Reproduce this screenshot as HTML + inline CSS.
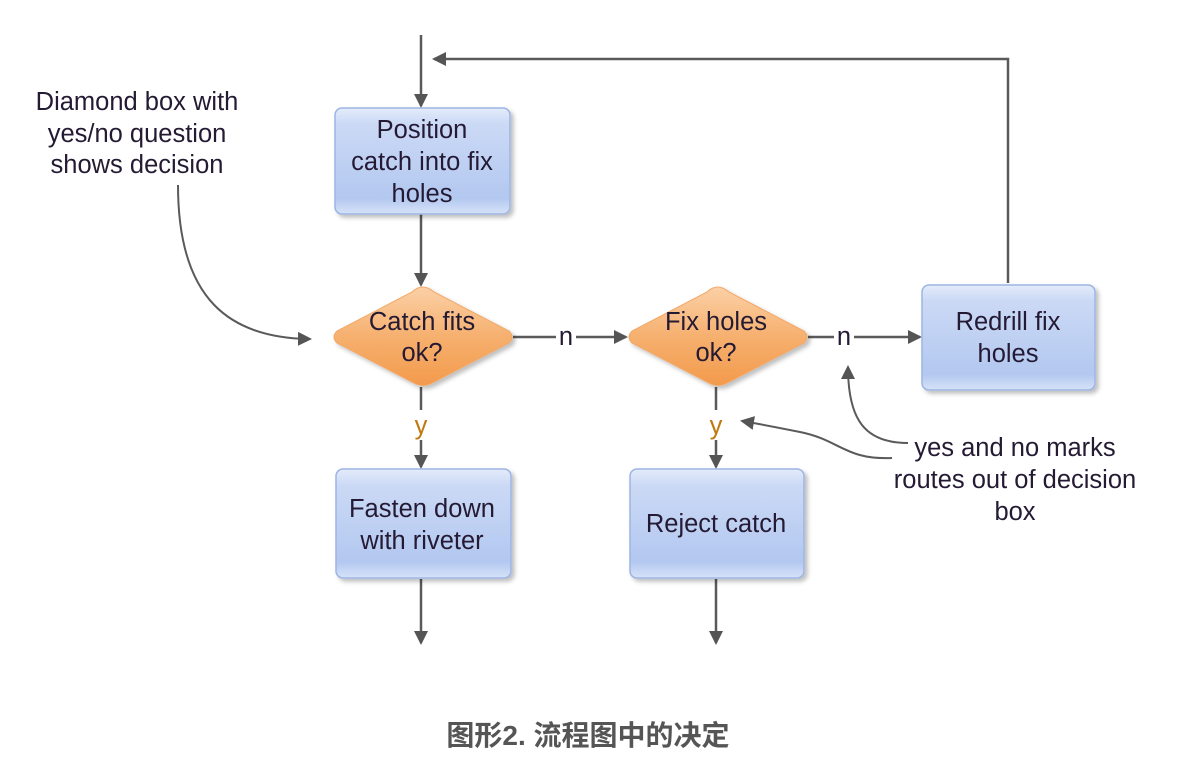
<!DOCTYPE html>
<html><head><meta charset="utf-8"><style>
html,body{margin:0;padding:0;background:#fff;}
svg{display:block;}
text{font-family:"Liberation Sans",Arial,sans-serif;font-size:25.5px;fill:#241a33;}
</style></head><body>
<svg width="1178" height="762" viewBox="0 0 1178 762" xmlns="http://www.w3.org/2000/svg">
<defs>
<linearGradient id="bl" x1="0" y1="0" x2="0" y2="1">
<stop offset="0" stop-color="#e4ecfb"/><stop offset="0.15" stop-color="#cbd9f5"/><stop offset="0.85" stop-color="#b3c8f0"/><stop offset="1" stop-color="#d6e2f8"/></linearGradient>
<linearGradient id="or" x1="0" y1="0" x2="0" y2="1">
<stop offset="0" stop-color="#fbd0a6"/><stop offset="0.5" stop-color="#f6b06f"/><stop offset="1" stop-color="#f39a4c"/></linearGradient>
<marker id="a" markerWidth="14" markerHeight="14" refX="12" refY="7" orient="auto" markerUnits="userSpaceOnUse"><path d="M0,0 L14,7 L0,14 z" fill="#555"/></marker>
<filter id="sh" x="-10%" y="-10%" width="130%" height="130%"><feDropShadow dx="3" dy="3" stdDeviation="2" flood-color="#000" flood-opacity="0.25"/></filter>
</defs>
<g stroke="#5a5a5a" stroke-width="2.5" fill="none">
<line x1="421" y1="35" x2="421" y2="106" marker-end="url(#a)"/>
<polyline points="1008,283 1008,59 434,59" marker-end="url(#a)"/>
<line x1="421" y1="214" x2="421" y2="285" marker-end="url(#a)"/>
<line x1="513" y1="337" x2="556" y2="337"/>
<line x1="576" y1="337" x2="626" y2="337" marker-end="url(#a)"/>
<line x1="808" y1="337" x2="834" y2="337"/>
<line x1="854" y1="337" x2="920" y2="337" marker-end="url(#a)"/>
<line x1="421" y1="387" x2="421" y2="410"/>
<line x1="421" y1="440" x2="421" y2="467" marker-end="url(#a)"/>
<line x1="716" y1="387" x2="716" y2="410"/>
<line x1="716" y1="440" x2="716" y2="467" marker-end="url(#a)"/>
<line x1="421" y1="579" x2="421" y2="643" marker-end="url(#a)"/>
<line x1="716" y1="579" x2="716" y2="643" marker-end="url(#a)"/>
</g>
<g stroke="#5a5a5a" stroke-width="2" fill="none">
<path d="M178,185 C178,300 230,338 310,339" marker-end="url(#a)"/>
<path d="M908,443 C865,443 848,420 848,367" marker-end="url(#a)"/>
<path d="M892,458 C845,460 840,440 800,432 C780,428 760,424 742,421" marker-end="url(#a)"/>
</g>
<g filter="url(#sh)" stroke="#9db4e4" stroke-width="1.5" fill="url(#bl)">
<rect x="335" y="108" width="175" height="106" rx="7"/>
<rect x="922" y="285" width="173" height="105" rx="7"/>
<rect x="336" y="469" width="175" height="109" rx="7"/>
<rect x="630" y="469" width="174" height="109" rx="7"/>
</g>
<g filter="url(#sh)" fill="url(#or)" stroke="#f1a868" stroke-width="1">
<path d="M423,287 Q428,287 434,292 L509,331 Q515,337 509,343 L434,382 Q423,389 412,382 L337,343 Q331,337 337,331 L412,292 Q417,287 423,287 z"/>
<path d="M718,287 Q723,287 729,292 L804,331 Q810,337 804,343 L729,382 Q718,389 707,382 L632,343 Q626,337 632,331 L707,292 Q712,287 718,287 z"/>
</g>
<g text-anchor="middle">
<text x="422" y="138">Position</text>
<text x="422" y="170">catch into fix</text>
<text x="422" y="202">holes</text>
<text x="422" y="330">Catch fits</text>
<text x="422" y="361">ok?</text>
<text x="716" y="330">Fix holes</text>
<text x="716" y="361">ok?</text>
<text x="1008" y="330">Redrill fix</text>
<text x="1008" y="362">holes</text>
<text x="422" y="517">Fasten down</text>
<text x="422" y="549">with riveter</text>
<text x="716" y="532">Reject catch</text>
<text x="566" y="345">n</text>
<text x="844" y="345">n</text>
<text x="421" y="434" style="fill:#c07a10">y</text>
<text x="716" y="434" style="fill:#c07a10">y</text>
<text x="137" y="110">Diamond box with</text>
<text x="137" y="142">yes/no question</text>
<text x="137" y="173">shows decision</text>
<text x="1015" y="456">yes and no marks</text>
<text x="1015" y="488">routes out of decision</text>
<text x="1015" y="520">box</text>
<text x="588" y="745" style="font-family:'Liberation Sans','Noto Sans CJK SC',sans-serif;font-weight:bold;font-size:28px;fill:#555">图形2. 流程图中的决定</text>
</g>
</svg>
</body></html>
